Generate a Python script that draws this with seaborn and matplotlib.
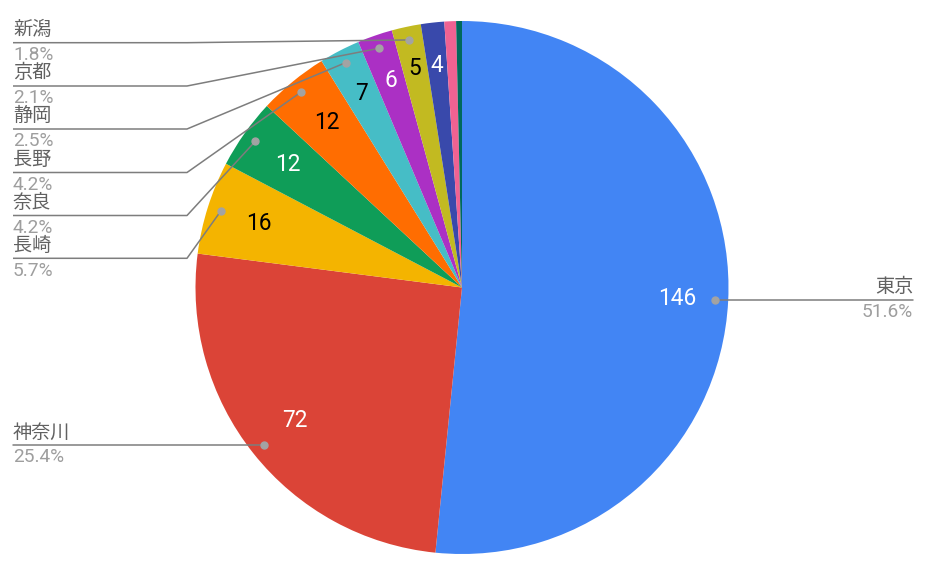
import matplotlib
matplotlib.use("Agg")
import matplotlib.pyplot as plt
import seaborn as sns
import numpy as np

# ---- data ----
categories = ["東京", "神奈川", "長崎", "奈良", "長野", "静岡", "京都", "新潟", "その他A", "その他B", "その他C"]
values = [146, 72, 16, 12, 12, 7, 6, 5, 4, 2, 1]
colors = ["#4285F4", "#DB4437", "#F4B400", "#0F9D58", "#FF6D01", "#46BDC6",
          "#AB30C4", "#C2BA21", "#3949AB", "#F06292", "#00695C"]
text_colors = ["white", "white", "black", "white", "black", "black",
               "white", "black", "white", "white", "white"]
show_value = [True, True, True, True, True, True, True, True, True, False, False]
left_labeled = ["新潟", "京都", "静岡", "長野", "奈良", "長崎"]

sns.set_theme(style="white")
plt.rcParams["font.family"] = ["Roboto", "Noto Sans CJK JP", "DejaVu Sans"]

W, H = 934, 578
fig = plt.figure(figsize=(W / 100, H / 100), dpi=100)
ax = fig.add_axes([0, 0, 1, 1])

cx, cy, R = 462, H - 287.5, 266.5
pal = sns.color_palette(colors)
wedges, _ = ax.pie(values, colors=pal, startangle=90, counterclock=False,
                   center=(cx, cy), radius=R, wedgeprops=dict(linewidth=0))
ax.set_xlim(0, W)
ax.set_ylim(0, H)
ax.set_aspect("equal")
ax.axis("off")

total = sum(values)
label_r = [0.81, 0.8, 0.8, 0.8, 0.8, 0.82, 0.82, 0.84, 0.84, 0.84, 0.84]

def mid(w):
    return np.deg2rad((w.theta1 + w.theta2) / 2)

for i, w in enumerate(wedges):
    if not show_value[i]:
        continue
    a = mid(w)
    r = label_r[i] * R
    ax.text(cx + r * np.cos(a), cy + r * np.sin(a), str(values[i]),
            ha="center", va="center", fontsize=16.3, color=text_colors[i],
            family=["Roboto", "DejaVu Sans"])

line_c = "#7d7d7d"
dot_c = "#a3a3a3"
name_c = "#616161"
pct_c = "#9e9e9e"
fs = 13.8

def pct(v):
    return f"{100 * v / total:.1f}%"

# left labels (top to bottom)
line_y_px = [42.7, 86, 129, 172.5, 215.5, 258.3]
for name, ly in zip(left_labeled, line_y_px):
    i = categories.index(name)
    a = mid(wedges[i])
    dx, dy = cx + 0.95 * R * np.cos(a), cy + 0.95 * R * np.sin(a)
    y = H - ly
    ax.plot([dx, 187, 13], [dy, y, y], color=line_c, lw=1.1, zorder=5,
            solid_capstyle="butt")
    ax.plot([dx], [dy], "o", ms=5, color=dot_c, zorder=6)
    ax.text(13, y + 12.7, name, ha="left", va="center", fontsize=fs, color=name_c)
    ax.text(13, y - 12.3, pct(values[i]), ha="left", va="center", fontsize=fs, color=pct_c)

# 神奈川 (left, horizontal)
i = categories.index("神奈川")
a = mid(wedges[i])
dx, dy = cx + 0.95 * R * np.cos(a), cy + 0.95 * R * np.sin(a)
ax.plot([dx, 13], [dy, dy], color=line_c, lw=1.1, zorder=5)
ax.plot([dx], [dy], "o", ms=5, color=dot_c, zorder=6)
ax.text(13, dy + 12.7, categories[i], ha="left", va="center", fontsize=fs, color=name_c)
ax.text(13, dy - 12.3, pct(values[i]), ha="left", va="center", fontsize=fs, color=pct_c)

# 東京 (right, horizontal)
i = categories.index("東京")
a = mid(wedges[i])
dx, dy = cx + 0.95 * R * np.cos(a), cy + 0.95 * R * np.sin(a)
ax.plot([dx, 913], [dy, dy], color=line_c, lw=1.1, zorder=5)
ax.plot([dx], [dy], "o", ms=5, color=dot_c, zorder=6)
ax.text(913, dy + 13.5, categories[i], ha="right", va="center", fontsize=fs, color=name_c)
ax.text(913, dy - 11.5, pct(values[i]), ha="right", va="center", fontsize=fs, color=pct_c)

fig.savefig("out.png", dpi=100, facecolor="white")
